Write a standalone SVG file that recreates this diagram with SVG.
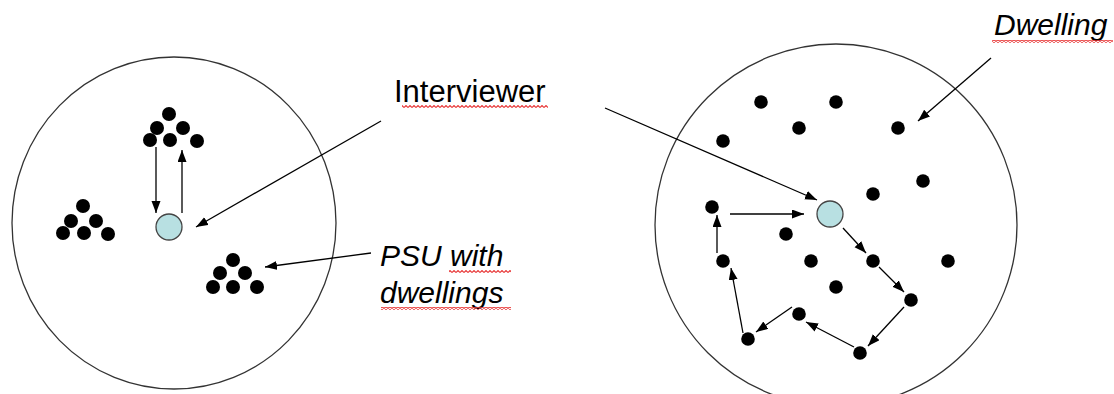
<svg xmlns="http://www.w3.org/2000/svg" width="1114" height="394" viewBox="0 0 1114 394">
<defs>
<marker id="ah" markerUnits="userSpaceOnUse" markerWidth="13" markerHeight="10" refX="12" refY="4.5" orient="auto">
<path d="M0,0 L12,4.5 L0,9 Z" fill="#000"/>
</marker>
<pattern id="squig" width="4" height="3" patternUnits="userSpaceOnUse">
<path d="M0,2.5 L2,0.5 L4,2.5" fill="none" stroke="#e83838" stroke-width="1.1"/>
</pattern>
</defs>
<style>
.area{fill:none;stroke:#333;stroke-width:1.3}
.dot{fill:#000}
.int{fill:#b8e0e2;stroke:#444;stroke-width:1.3}
.conn line{stroke:#000;stroke-width:1.3;marker-end:url(#ah)}
.lbl{font-family:"Liberation Sans",Arial,sans-serif;font-size:30px;fill:#000}
.it{font-style:italic}
.sq{fill:url(#squig)}
</style>
<rect width="1114" height="394" fill="#fff"/>

<g id="left-area">
<ellipse class="area" cx="174" cy="223" rx="162" ry="166"/>
</g>
<g id="right-area">
<circle class="area" cx="836" cy="225" r="181"/>
</g>

<g id="psu-top">
<circle class="dot" cx="169" cy="114" r="7"/>
<circle class="dot" cx="157" cy="128" r="7"/>
<circle class="dot" cx="183" cy="128" r="7"/>
<circle class="dot" cx="150" cy="140" r="7"/>
<circle class="dot" cx="170" cy="140" r="7"/>
<circle class="dot" cx="197" cy="141" r="7"/>
</g>
<g id="psu-left">
<circle class="dot" cx="83" cy="206" r="7"/>
<circle class="dot" cx="71" cy="221" r="7"/>
<circle class="dot" cx="96" cy="221" r="7"/>
<circle class="dot" cx="63" cy="233" r="7"/>
<circle class="dot" cx="84" cy="233" r="7"/>
<circle class="dot" cx="108" cy="234" r="7"/>
</g>
<g id="psu-right">
<circle class="dot" cx="233" cy="260" r="7"/>
<circle class="dot" cx="220" cy="273" r="7"/>
<circle class="dot" cx="245" cy="273" r="7"/>
<circle class="dot" cx="213" cy="287" r="7"/>
<circle class="dot" cx="233" cy="287" r="7"/>
<circle class="dot" cx="257" cy="287" r="7"/>
</g>
<g id="interviewer-left">
<circle class="int" cx="169" cy="227" r="13"/>
</g>

<g id="dwellings">
<circle class="dot" cx="761" cy="102" r="6.8"/>
<circle class="dot" cx="836" cy="102" r="6.8"/>
<circle class="dot" cx="799" cy="128" r="6.8"/>
<circle class="dot" cx="898" cy="128" r="6.8"/>
<circle class="dot" cx="723" cy="141" r="6.8"/>
<circle class="dot" cx="923" cy="181" r="6.8"/>
<circle class="dot" cx="873" cy="194" r="6.8"/>
<circle class="dot" cx="712" cy="207" r="6.8"/>
<circle class="dot" cx="786" cy="234" r="6.8"/>
<circle class="dot" cx="723" cy="261" r="6.8"/>
<circle class="dot" cx="811" cy="261" r="6.8"/>
<circle class="dot" cx="873" cy="261" r="6.8"/>
<circle class="dot" cx="948" cy="261" r="6.8"/>
<circle class="dot" cx="836" cy="287" r="6.8"/>
<circle class="dot" cx="911" cy="300" r="6.8"/>
<circle class="dot" cx="799" cy="314" r="6.8"/>
<circle class="dot" cx="748" cy="339" r="6.8"/>
<circle class="dot" cx="860" cy="353" r="6.8"/>
</g>
<g id="interviewer-right">
<circle class="int" cx="830" cy="214" r="13"/>
</g>

<g id="connectors" class="conn">
<line x1="156" y1="147" x2="156" y2="213"/>
<line x1="182" y1="213" x2="182" y2="150"/>
<line x1="381" y1="121" x2="196" y2="227"/>
<line x1="371" y1="253" x2="265" y2="267"/>
<line x1="605" y1="108" x2="817" y2="200"/>
<line x1="991" y1="58" x2="918" y2="121"/>
<line x1="843" y1="228" x2="866" y2="253"/>
<line x1="879" y1="267" x2="904" y2="292"/>
<line x1="904" y1="307" x2="868" y2="346"/>
<line x1="854" y1="347" x2="806" y2="322"/>
<line x1="792" y1="307" x2="756" y2="332"/>
<line x1="743" y1="333" x2="731" y2="268"/>
<line x1="717" y1="253" x2="717" y2="215"/>
<line x1="730" y1="214" x2="804" y2="214"/>
</g>

<g id="label-interviewer">
<text class="lbl" x="394" y="102" style="font-size:31px">Interviewer</text>
<rect class="sq" x="402" y="105" width="146" height="3"/>
</g>
<g id="label-psu">
<text class="lbl it" x="380" y="266">PSU with</text>
<text class="lbl it" x="380" y="303">dwellings</text>
<rect class="sq" x="449" y="270" width="62" height="3"/>
<rect class="sq" x="381" y="307" width="130" height="3"/>
</g>
<g id="label-dwelling">
<text class="lbl it" x="994" y="35">Dwelling</text>
<rect class="sq" x="992" y="40" width="121" height="3"/>
</g>
</svg>
